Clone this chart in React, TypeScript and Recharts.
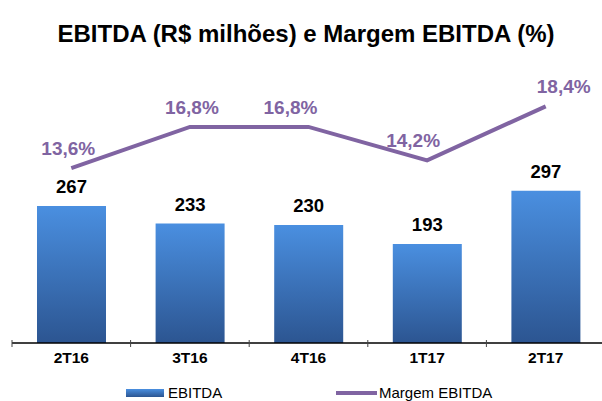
import React from 'react';
import { ComposedChart, Bar, Line, XAxis, YAxis, LabelList } from 'recharts';

const quarters = ['2T16', '3T16', '4T16', '1T17', '2T17'];
const ebitda = [267, 233, 230, 193, 297];
const margem = [13.6, 16.8, 16.8, 14.2, 18.4];

const data = quarters.map((q, i) => ({ q, ebitda: ebitda[i], margem: margem[i] }));

const PURPLE = '#8064A2';
const FONT = '"Liberation Sans", Arial, sans-serif';
const BAND = 593 / quarters.length;

// small nudges so the % labels sit where the original put them
const pctNudge = [-3, 2, -18, -14, 18];

const CategoryTick = (props: any) => {
    const { x, y, payload, index } = props;
    const left = x - BAND / 2;
    return (
        <g>
            <line x1={left} x2={left} y1={y - 3} y2={y + 4} stroke="#444" strokeWidth={1} />
            {index === quarters.length - 1 && (
                <line x1={x + BAND / 2} x2={x + BAND / 2} y1={y - 3} y2={y + 4} stroke="#444" />
            )}
            <text x={x} y={y + 20} textAnchor="middle" fontFamily={FONT} fontWeight="bold" fontSize={15.5} fill="#000">
                {payload.value}
            </text>
        </g>
    );
};

const PctLabel = (props: any) => {
    const { x, y, value, index } = props;
    return (
        <text
            x={x + (pctNudge[index] || 0)}
            y={y - 13}
            textAnchor="middle"
            fontFamily={FONT}
            fontWeight="bold"
            fontSize={19}
            fill={PURPLE}
        >
            {value.toFixed(1).replace('.', ',')}%
        </text>
    );
};

export default function App() {
    return (
        <div style={{ position: 'fixed', left: 0, top: 0, width: 602, height: 401, overflow: 'hidden', background: '#fff' }}>
            <svg width={602} height={401} style={{ position: 'absolute', left: 0, top: 0 }}>
                <defs>
                    <linearGradient id="legendBar" x1="0" y1="0" x2="0" y2="1">
                        <stop offset="0%" stopColor="#4A8FE0" />
                        <stop offset="100%" stopColor="#2C5591" />
                    </linearGradient>
                </defs>
                <text x={306} y={42} textAnchor="middle" fontFamily={FONT} fontWeight="bold" fontSize={24} fill="#000">
                    EBITDA (R$ milhões) e Margem EBITDA (%)
                </text>
                <rect x={126} y={389} width={38} height={8} fill="url(#legendBar)" />
                <text x={168} y={398} fontFamily={FONT} fontSize={15} fill="#000">EBITDA</text>
                <line x1={336} x2={377} y1={393} y2={393} stroke={PURPLE} strokeWidth={4} />
                <text x={379} y={398} fontFamily={FONT} fontSize={15} fill="#000">Margem EBITDA</text>
            </svg>
            <div style={{ position: 'absolute', left: 0, top: 0 }}>
                <ComposedChart width={605} height={401} data={data} margin={{ top: 60, right: 0, bottom: 28, left: 12 }}>
                    <defs>
                        <linearGradient id="barFill" x1="0" y1="0" x2="0" y2="1">
                            <stop offset="0%" stopColor="#4A8FE0" />
                            <stop offset="100%" stopColor="#2C5591" />
                        </linearGradient>
                    </defs>
                    <XAxis
                        dataKey="q"
                        height={30}
                        axisLine={{ stroke: '#000', strokeWidth: 1.5 }}
                        tickLine={false}
                        tickSize={0}
                        tickMargin={0}
                        interval={0}
                        tick={<CategoryTick />}
                    />
                    <YAxis yAxisId="bar" hide domain={[0, 552]} />
                    <YAxis yAxisId="pct" hide orientation="right" domain={[0, 22]} />
                    <Bar yAxisId="bar" dataKey="ebitda" barSize={69} fill="url(#barFill)" isAnimationActive={false}>
                        <LabelList
                            dataKey="ebitda"
                            position="top"
                            offset={13}
                            fill="#000"
                            fontFamily={FONT}
                            fontWeight="bold"
                            fontSize={18.5}
                        />
                    </Bar>
                    <Line
                        yAxisId="pct"
                        dataKey="margem"
                        stroke={PURPLE}
                        strokeWidth={4}
                        dot={false}
                        activeDot={false}
                        type="linear"
                        isAnimationActive={false}
                    >
                        <LabelList dataKey="margem" content={<PctLabel />} />
                    </Line>
                </ComposedChart>
            </div>
        </div>
    );
}
